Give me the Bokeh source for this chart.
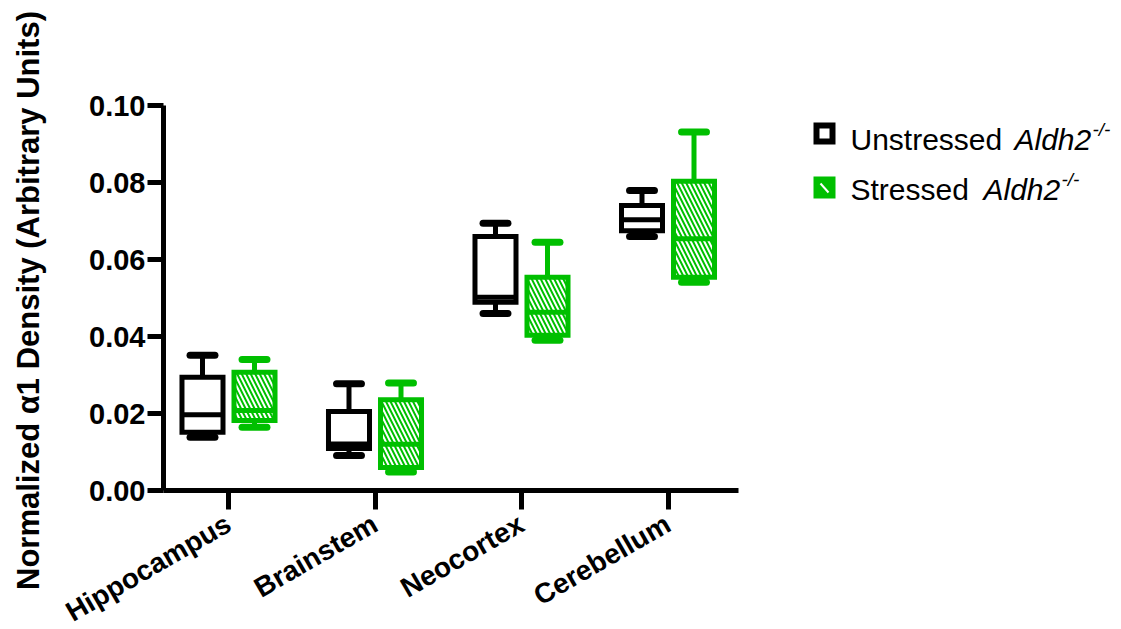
import math

from bokeh.embed import file_html
from bokeh.models import FixedTicker, Label, Range1d
from bokeh.plotting import figure
from bokeh.resources import INLINE

# ---- data -------------------------------------------------------------
regions = ["Hippocampus", "Brainstem", "Neocortex", "Cerebellum"]

# box-and-whisker summaries per region: min, Q1, median, Q3, max
unstressed_min = [0.0138, 0.0091, 0.0460, 0.0660]
unstressed_q1 = [0.0151, 0.0109, 0.0489, 0.0675]
unstressed_med = [0.0197, 0.0121, 0.0502, 0.0703]
unstressed_q3 = [0.0294, 0.0205, 0.0660, 0.0740]
unstressed_max = [0.0351, 0.0277, 0.0694, 0.0779]

stressed_min = [0.0164, 0.0048, 0.0390, 0.0541]
stressed_q1 = [0.0182, 0.0060, 0.0403, 0.0554]
stressed_med = [0.0208, 0.0120, 0.0463, 0.0654]
stressed_q3 = [0.0307, 0.0236, 0.0554, 0.0803]
stressed_max = [0.0340, 0.0279, 0.0645, 0.0931]

y_ticks = [0.00, 0.02, 0.04, 0.06, 0.08, 0.10]
y_tick_labels = ["0.00", "0.02", "0.04", "0.06", "0.08", "0.10"]

# ---- layout -------------------------------------------------------------
# The plotting frame covers the whole page; both axes are pinned at the
# data origin so the slanted names and the rotated title have room.
W, H = 1121, 629
ORIGIN_PX = (163, 490)          # page position of (x axis start, y = 0)
PX_PER_CAT = 146.5
PX_PER_UNIT_Y = 3850.0
X_AXIS_START = -65 / PX_PER_CAT
X_AXIS_END = 3.48
Y_MAX = 0.10

X0 = X_AXIS_START - ORIGIN_PX[0] / PX_PER_CAT
X1 = X0 + W / PX_PER_CAT
Y1 = ORIGIN_PX[1] / PX_PER_UNIT_Y
Y0 = Y1 - H / PX_PER_UNIT_Y

GREEN = "#00BF00"
FONT = "Liberation Sans"

BOX_W = 0.28
OFFSET = 0.1775
CAP_HALF = 0.085


def px_x(px):
    return X0 + px / PX_PER_CAT


def px_y(py):
    return Y1 - py / PX_PER_UNIT_Y


p = figure(
    width=W, height=H,
    x_range=Range1d(X0, X1), y_range=Range1d(Y0, Y1),
    output_backend="svg", toolbar_location=None,
)
p.min_border = 0
p.min_border_left = 0
p.min_border_right = 0
p.min_border_top = 0
p.min_border_bottom = 0
p.outline_line_color = None
p.xgrid.visible = False
p.ygrid.visible = False
p.background_fill_color = "white"
p.border_fill_color = "white"


def draw_boxes(xc, lo, q1, med, q3, hi, color, fill, hatch):
    xs = [xc + i for i in range(len(regions))]
    # whiskers
    p.segment(x0=xs, y0=q3, x1=xs, y1=hi, line_color=color, line_width=5)
    p.segment(x0=xs, y0=lo, x1=xs, y1=q1, line_color=color, line_width=5)
    # boxes
    kw = dict(x=xs, top=q3, bottom=q1, width=BOX_W, fill_color=fill,
              line_color=color, line_width=5, line_join="miter")
    if hatch:
        kw.update(hatch_pattern="\\", hatch_color="white", hatch_weight=2,
                  hatch_scale=9)
    p.vbar(**kw)
    # medians
    p.segment(x0=[x - BOX_W / 2 for x in xs], y0=med,
              x1=[x + BOX_W / 2 for x in xs], y1=med,
              line_color=color, line_width=5)
    # caps
    for yv in (hi, lo):
        p.segment(x0=[x - CAP_HALF for x in xs], y0=yv,
                  x1=[x + CAP_HALF for x in xs], y1=yv,
                  line_color=color, line_width=7, line_cap="round")


draw_boxes(-OFFSET, unstressed_min, unstressed_q1, unstressed_med,
           unstressed_q3, unstressed_max, "black", "white", False)
draw_boxes(OFFSET, stressed_min, stressed_q1, stressed_med,
           stressed_q3, stressed_max, GREEN, GREEN, True)

# ---- axes ---------------------------------------------------------------
yax = p.yaxis[0]
yax.fixed_location = X_AXIS_START
yax.bounds = (0, Y_MAX)
yax.ticker = FixedTicker(ticks=y_ticks)
yax.major_label_overrides = dict(zip(y_ticks, y_tick_labels))
yax.axis_line_width = 5
yax.major_tick_line_width = 5
yax.major_tick_out = 16
yax.major_tick_in = 0
yax.minor_tick_line_color = None
yax.major_label_standoff = 2
yax.major_label_text_font = FONT
yax.major_label_text_font_style = "bold"
yax.major_label_text_font_size = "29px"
yax.major_label_text_color = "black"

xax = p.xaxis[0]
xax.fixed_location = 0
xax.bounds = (X_AXIS_START, X_AXIS_END)
xax.ticker = FixedTicker(ticks=list(range(len(regions))))
xax.major_label_overrides = {i: name for i, name in enumerate(regions)}
xax.axis_line_width = 5
xax.major_tick_line_width = 5
xax.major_tick_out = 19
xax.major_tick_in = 0
xax.minor_tick_line_color = None
xax.major_label_standoff = 12
xax.major_label_orientation = math.radians(30)
xax.major_label_text_font = FONT
xax.major_label_text_font_style = "bold"
xax.major_label_text_font_size = "28px"
xax.major_label_text_color = "black"

# rotated value-axis title
p.add_layout(Label(x=px_x(28), y=px_y(300),
                   text="Normalized α1 Density (Arbitrary Units)",
                   angle=math.pi / 2, text_align="center",
                   text_baseline="middle", text_font=FONT,
                   text_font_style="bold", text_font_size="31px",
                   text_color="black"))

# ---- legend -------------------------------------------------------------
p.scatter(x=[px_x(824)], y=[px_y(133)], marker="square", size=16,
          fill_color="white", line_color="black", line_width=6,
          line_join="miter")
p.scatter(x=[px_x(824)], y=[px_y(187)], marker="square", size=22,
          fill_color=GREEN, line_color=None)
p.segment(x0=[px_x(820)], y0=[px_y(183)], x1=[px_x(828)], y1=[px_y(192)],
          line_color="white", line_width=2)

legend_rows = [("Unstressed ", 139, 164), ("Stressed ", 189, 133)]
for word, base_py, gene_dx in legend_rows:
    y0 = px_y(base_py)
    p.add_layout(Label(x=px_x(850), y=y0, text=word, text_font=FONT,
                       text_font_size="30px", text_color="black",
                       text_baseline="alphabetic"))
    p.add_layout(Label(x=px_x(850 + gene_dx), y=y0, text="Aldh2",
                       text_font=FONT, text_font_style="italic",
                       text_font_size="30px", text_color="black",
                       text_baseline="alphabetic"))
    p.add_layout(Label(x=px_x(850 + gene_dx + 78), y=px_y(base_py - 10),
                       text="-/-", text_font=FONT,
                       text_font_style="italic", text_font_size="19px",
                       text_color="black", text_baseline="alphabetic"))

open("out.html", "w").write(file_html(p, INLINE))
